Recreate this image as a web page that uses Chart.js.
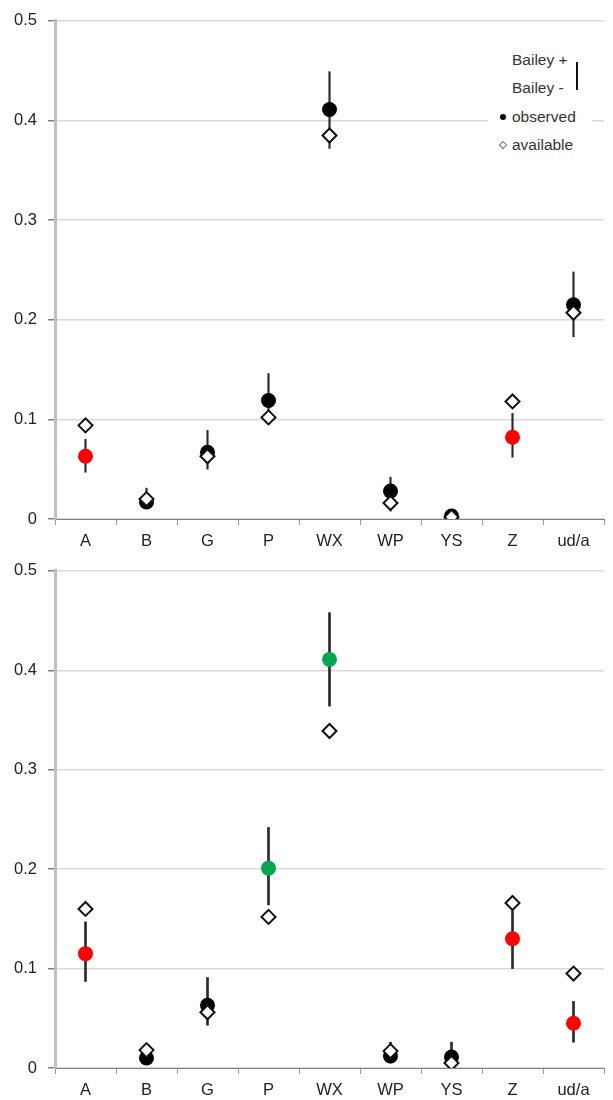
<!DOCTYPE html>
<html>
<head>
<meta charset="utf-8">
<script src="https://cdn.jsdelivr.net/npm/chart.js@4/dist/chart.umd.min.js"></script>
<style>
  body { margin: 0; background: #fff; width: 613px; height: 1100px; position: relative; overflow: hidden; font-family: "Liberation Sans", Arial, sans-serif; }
  .box { position: absolute; left: 0; width: 613px; }
  #legend { position: absolute; left: 488px; top: 46px; width: 104px; height: 112px; background: #fff; color: #333; font-size: 15.5px; }
  #legend span { position: absolute; white-space: nowrap; line-height: 18px; }
</style>
</head>
<body>
<div class="box" style="top:0;height:555px"><canvas id="chartTop"></canvas></div>
<div class="box" style="top:550px;height:550px"><canvas id="chartBottom"></canvas></div>
<div id="legend">
  <span style="left:24px;top:5px">Bailey +</span>
  <span style="left:24px;top:33px">Bailey -</span>
  <div style="position:absolute;left:88px;top:16px;width:1.5px;height:28px;background:#111"></div>
  <div style="position:absolute;left:12px;top:68px;width:6px;height:6px;border-radius:50%;background:#000"></div>
  <span style="left:24px;top:62px">observed</span>
  <div style="position:absolute;left:12px;top:96px;width:4px;height:4px;border:1px solid #777;transform:rotate(45deg)"></div>
  <span style="left:24px;top:90px">available</span>
</div>
<script>
// categorie e valori
const categorie = ['A', 'B', 'G', 'P', 'WX', 'WP', 'YS', 'Z', 'ud/a'];

// pannello superiore
const osservatiSopra = [0.063, 0.017, 0.067, 0.119, 0.411, 0.028, 0.003, 0.082, 0.215];
const disponibiliSopra = [0.094, 0.020, 0.063, 0.102, 0.385, 0.016, 0.002, 0.118, 0.207];
const baileyMenoSopra = [0.047, 0.011, 0.050, 0.096, 0.372, 0.008, 0.000, 0.062, 0.183];
const baileyPiuSopra = [0.080, 0.031, 0.089, 0.146, 0.449, 0.042, 0.008, 0.106, 0.248];
const coloriSopra = ['#ff0000', '#000', '#000', '#000', '#000', '#000', '#000', '#ff0000', '#000'];

// pannello inferiore
const osservatiSotto = [0.115, 0.010, 0.063, 0.201, 0.411, 0.012, 0.011, 0.130, 0.045];
const disponibiliSotto = [0.160, 0.018, 0.056, 0.152, 0.339, 0.017, 0.005, 0.166, 0.095];
const baileyMenoSotto = [0.087, 0.005, 0.043, 0.164, 0.364, 0.005, 0.000, 0.100, 0.026];
const baileyPiuSotto = [0.147, 0.024, 0.091, 0.242, 0.458, 0.026, 0.026, 0.158, 0.067];
const coloriSotto = ['#ff0000', '#000', '#000', '#00a651', '#00a651', '#000', '#000', '#ff0000', '#ff0000'];

const yTicks = [0, 0.1, 0.2, 0.3, 0.4, 0.5];

function creaGrafico(id, osservati, disponibili, meno, piu, colori, padTop, altezzaX, spessore) {
  const ctx = document.getElementById(id).getContext('2d');
  return new Chart(ctx, {
    type: 'bar',
    data: {
      labels: categorie,
      datasets: [
        {
          // barre di errore Bailey
          type: 'bar',
          data: meno.map((m, i) => [m, piu[i]]),
          backgroundColor: '#2a2a2a',
          borderWidth: 0,
          barThickness: spessore,
          order: 3
        },
        {
          type: 'line',
          data: osservati,
          showLine: false,
          pointStyle: 'circle',
          pointRadius: 7.5,
          pointBackgroundColor: colori,
          pointBorderWidth: 0,
          order: 2
        },
        {
          type: 'line',
          data: disponibili,
          showLine: false,
          pointStyle: 'rectRot',
          pointRadius: 7,
          pointBackgroundColor: '#fff',
          pointBorderColor: '#111',
          pointBorderWidth: 2,
          order: 1
        }
      ]
    },
    options: {
      responsive: true,
      maintainAspectRatio: false,
      animation: false,
      layout: { padding: { top: padTop, left: 0, right: 0, bottom: 0 } },
      plugins: { legend: { display: false }, tooltip: { enabled: false } },
      scales: {
        x: {
          offset: true,
          afterFit: s => { s.height = altezzaX; },
          grid: { display: true, drawOnChartArea: false, offset: true, tickLength: 6, color: '#999' },
          border: { color: '#808080', width: 1 },
          ticks: { color: '#222', padding: 7, font: { size: 16.5, family: '"Liberation Sans", Arial, sans-serif' } }
        },
        y: {
          min: 0,
          max: 0.5,
          afterFit: s => { s.width = 55; },
          afterBuildTicks: s => { s.ticks = yTicks.map(v => ({ value: v })); },
          grid: { color: '#d9d9d9', lineWidth: 1.5, tickLength: 7, tickColor: '#808080' },
          border: { color: '#c0c0c0', width: 3 },
          ticks: {
            color: '#222',
            padding: 11,
            font: { size: 16.5, family: '"Liberation Sans", Arial, sans-serif' },
            callback: v => v === 0 ? '0' : v.toFixed(1)
          }
        }
      }
    }
  });
}

creaGrafico('chartTop', osservatiSopra, disponibiliSopra, baileyMenoSopra, baileyPiuSopra, coloriSopra, 19, 36, 1.5);
creaGrafico('chartBottom', osservatiSotto, disponibiliSotto, baileyMenoSotto, baileyPiuSotto, coloriSotto, 18, 32, 2);
</script>
</body>
</html>
